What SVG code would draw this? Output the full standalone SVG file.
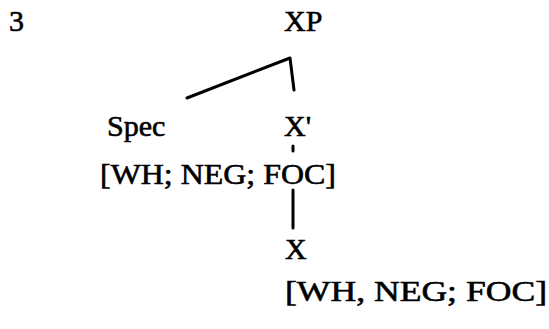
<svg xmlns="http://www.w3.org/2000/svg" width="549" height="329" viewBox="0 0 549 329">
  <style>
    .lbl { font-family: "Liberation Serif", "Times New Roman", serif; font-size: 30px; fill: #000; stroke: #000; stroke-width: 0.6px; }
    .edge { stroke: #000; stroke-width: 3; fill: none; stroke-linecap: round; stroke-linejoin: round; }
  </style>
  <rect width="549" height="329" fill="#fff"/>
  <text class="lbl" x="9" y="31">3</text>
  <g id="connectors">
    <path class="edge" d="M187,98 L290,58 L294,90"/>
    <path class="edge" d="M293,146 L293,151"/>
    <path class="edge" d="M293,190 L293,228"/>
  </g>
  <g id="xp"><text class="lbl" x="284" y="31">XP</text></g>
  <g id="spec">
    <text class="lbl" x="107" y="136">Spec</text>
    <text class="lbl" x="100" y="184" textLength="236" lengthAdjust="spacingAndGlyphs">[WH; NEG; FOC]</text>
  </g>
  <g id="xbar"><text class="lbl" x="284" y="136">X'</text></g>
  <g id="x">
    <text class="lbl" x="285" y="259">X</text>
    <text class="lbl" x="285" y="301" textLength="262" lengthAdjust="spacingAndGlyphs">[WH, NEG; FOC]</text>
  </g>
</svg>
